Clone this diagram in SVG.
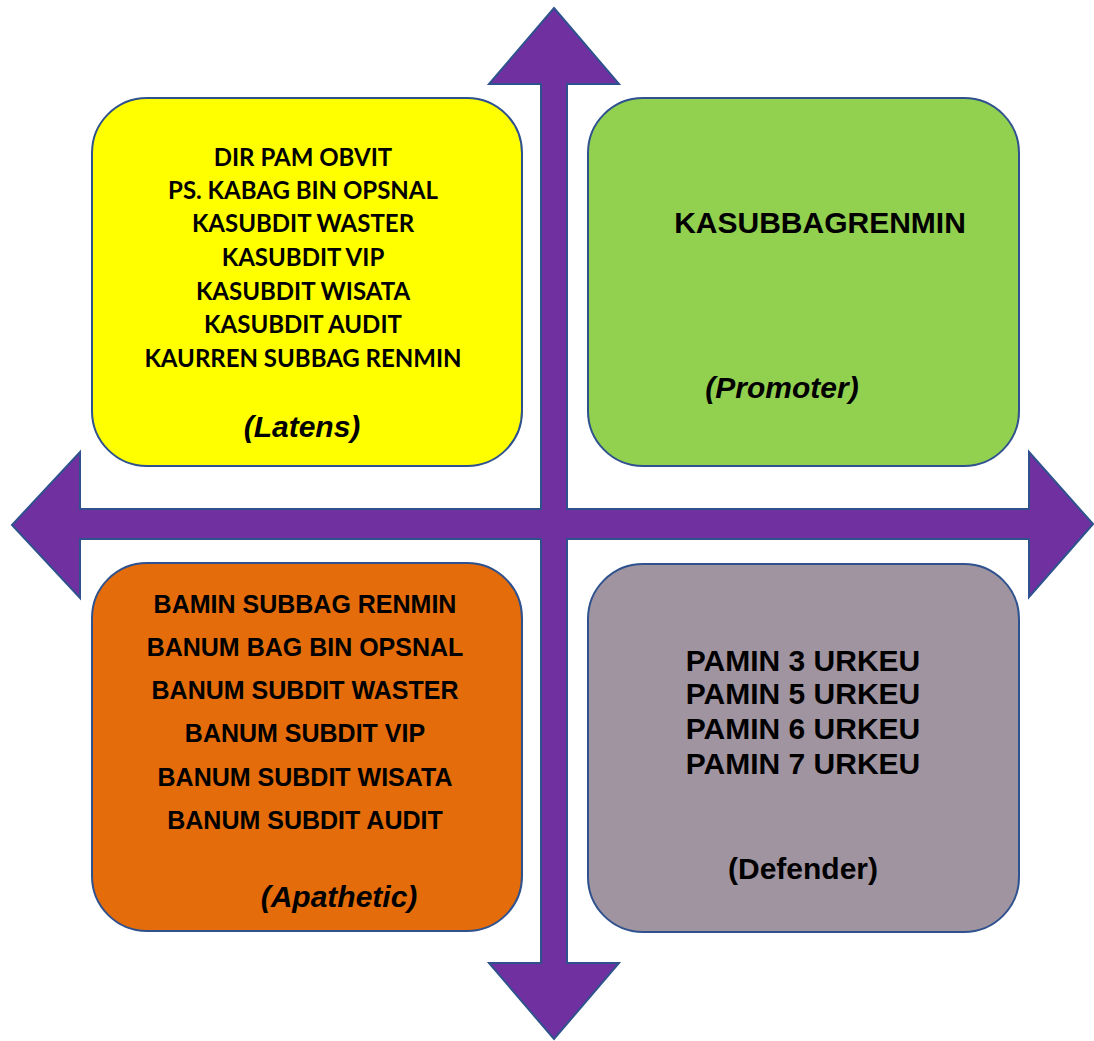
<svg xmlns="http://www.w3.org/2000/svg" width="1094" height="1041" viewBox="0 0 1094 1041">
<style>
.box{stroke:#2F528F;stroke-width:2}
.cal{font-family:Lato,"Open Sans",sans-serif;font-weight:bold;font-size:24px;fill:#000;text-anchor:middle}
.ar{font-family:"Liberation Sans",Arial,sans-serif;font-weight:bold;fill:#000;text-anchor:middle}
.it{font-style:italic;font-size:30px}
</style>
<rect width="1094" height="1041" fill="#fff"/>
<g id="connectors">
<polygon fill="#7030A0" stroke="#2F528F" stroke-width="2" stroke-linejoin="miter" points="554,8 619,84 567,84 567,509 1029,509 1029,452 1093,524 1029,597 1029,539 567,539 567,963 619,963 554,1039 489,963 541,963 541,539 80,539 80,598 12,525 80,452 80,509 541,509 541,84 489,84"/>
</g>
<g id="latens">
<rect class="box" x="92" y="98" width="430" height="368" rx="55" fill="#FFFF00"/>
<g class="cal">
<text x="303" y="166">DIR PAM OBVIT</text>
<text x="303" y="199">PS. KABAG BIN OPSNAL</text>
<text x="303" y="232">KASUBDIT WASTER</text>
<text x="303" y="266">KASUBDIT VIP</text>
<text x="303" y="300">KASUBDIT WISATA</text>
<text x="303" y="333">KASUBDIT AUDIT</text>
<text x="303" y="367">KAURREN SUBBAG RENMIN</text>
</g>
<text class="ar it" x="302" y="437">(Latens)</text>
</g>
<g id="promoter">
<rect class="box" x="588" y="98" width="431" height="368" rx="55" fill="#92D050"/>
<text class="ar" x="820" y="233" font-size="30">KASUBBAGRENMIN</text>
<text class="ar it" x="782" y="398">(Promoter)</text>
</g>
<g id="apathetic">
<rect class="box" x="92" y="563" width="430" height="368" rx="55" fill="#E46C0A"/>
<g class="ar" font-size="25">
<text x="305" y="613">BAMIN SUBBAG RENMIN</text>
<text x="305" y="656">BANUM BAG BIN OPSNAL</text>
<text x="305" y="699">BANUM SUBDIT WASTER</text>
<text x="305" y="742">BANUM SUBDIT VIP</text>
<text x="305" y="786">BANUM SUBDIT WISATA</text>
<text x="305" y="829">BANUM SUBDIT AUDIT</text>
</g>
<text class="ar it" x="339" y="907">(Apathetic)</text>
</g>
<g id="defender">
<rect class="box" x="588" y="564" width="431" height="368" rx="55" fill="#A094A0"/>
<g class="ar" font-size="30">
<text x="803" y="671">PAMIN 3 URKEU</text>
<text x="803" y="704">PAMIN 5 URKEU</text>
<text x="803" y="739">PAMIN 6 URKEU</text>
<text x="803" y="774">PAMIN 7 URKEU</text>
</g>
<text class="ar" x="803" y="879" font-size="30">(Defender)</text>
</g>
</svg>
